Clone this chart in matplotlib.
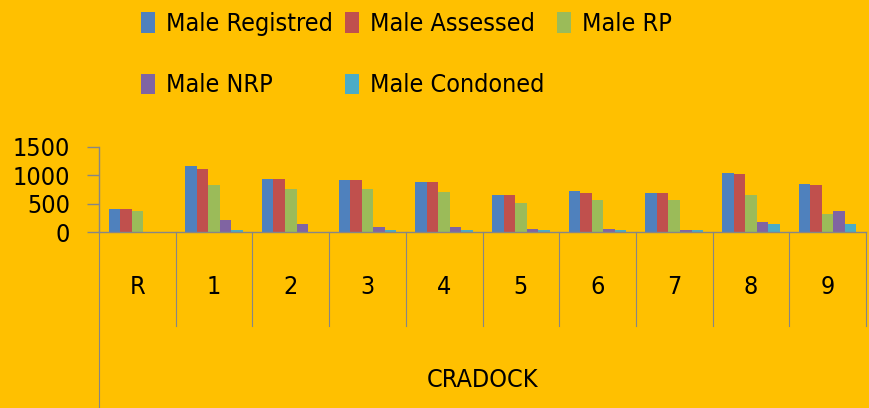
import matplotlib.pyplot as plt
import numpy as np
from matplotlib.patches import Patch
from matplotlib.transforms import blended_transform_factory

categories = ["R", "1", "2", "3", "4", "5", "6", "7", "8", "9"]
group_label = "CRADOCK"
series_names = ["Male Registred", "Male Assessed", "Male RP", "Male NRP", "Male Condoned"]
male_registred = [400, 1170, 940, 910, 880, 655, 715, 685, 1050, 855]
male_assessed = [400, 1110, 940, 910, 880, 655, 685, 685, 1025, 825]
male_rp = [378, 825, 765, 765, 710, 515, 570, 570, 655, 315]
male_nrp = [0, 205, 140, 90, 90, 60, 60, 30, 175, 370]
male_condoned = [0, 30, 0, 30, 30, 30, 30, 30, 145, 145]
yticks = [0, 500, 1000, 1500]

colors = ["#4F81BD", "#C0504D", "#9BBB59", "#8064A2", "#4BACC6"]
bg = "#FFC000"
axis_gray = "#868686"
fs = 18
plt.rcParams["font.family"] = ["DejaVu Sans"]
plt.rcParams["font.stretch"] = "condensed"

fig = plt.figure(figsize=(8.69, 4.08), dpi=100, facecolor=bg)
ax = fig.add_axes([99 / 869, 1 - 232 / 408, 767 / 869, 85 / 408])
ax.set_facecolor(bg)

series = [male_registred, male_assessed, male_rp, male_nrp, male_condoned]
x = np.arange(len(categories))
width = 0.15
for i, (vals, c) in enumerate(zip(series, colors)):
    ax.bar(x + (i - 2) * width, vals, width, color=c, linewidth=0)

ax.set_xlim(-0.5, len(categories) - 0.5)
ax.set_ylim(0, 1500)
ax.set_yticks(yticks)
ax.tick_params(axis="y", length=9, width=1, color=axis_gray, pad=12, labelsize=fs)
ax.set_xticks([])
for s in ["top", "right"]:
    ax.spines[s].set_visible(False)
for s in ["left", "bottom"]:
    ax.spines[s].set_color(axis_gray)
    ax.spines[s].set_linewidth(1)

# two-level category axis
trans = blended_transform_factory(ax.transData, ax.transAxes)
inner_depth = -(326 - 232) / 85
outer_depth = -(408 - 232) / 85
for b in np.arange(len(categories) + 1) - 0.5:
    bottom = outer_depth if b == -0.5 else inner_depth
    ax.plot([b, b], [0, bottom], transform=trans, color=axis_gray, lw=0.8, clip_on=False)
for xi, cat in zip(x, categories):
    ax.text(xi, -(287 - 232) / 85, cat, transform=trans, ha="center", va="center", fontsize=fs)
ax.text(0.5, -(380 - 232) / 85, group_label, transform=ax.transAxes, ha="center", va="center", fontsize=fs)

# legend fills column by column, so reorder to read row by row
order = [0, 3, 1, 4, 2]
handles = [Patch(facecolor=colors[i], edgecolor="none") for i in order]
labels = [series_names[i] for i in order]
fig.legend(handles, labels, loc="upper left", bbox_to_anchor=(131 / 869, 1 - 2 / 408), ncol=3,
           frameon=False, fontsize=fs, handlelength=0.55, handleheight=0.9, handletextpad=0.45,
           columnspacing=0.5, labelspacing=1.5, borderaxespad=0.0)

fig.savefig("out.png", dpi=100, facecolor=bg)
